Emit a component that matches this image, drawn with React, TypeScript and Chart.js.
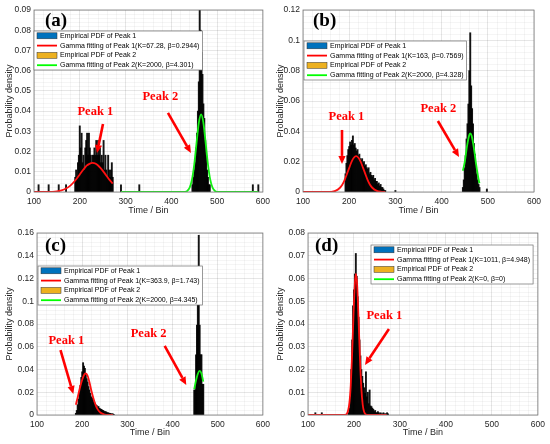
import { useEffect, useRef } from "react";
import { Chart, registerables } from "chart.js";

Chart.register(...registerables);

// ---- panel (a) ----
const binsA1 = [110, 132, 154, 170, 190, 192, 194, 196, 198, 200, 202, 204, 206, 208, 210, 212, 214, 216, 218, 220, 222, 224, 226, 228, 230, 232, 234, 236, 238, 240, 242, 244, 246, 248, 250, 252, 254, 256, 258, 260, 262, 264, 266, 268, 270, 272, 290, 330, 578, 590];
const pdfA1 = [0.0036, 0.0036, 0.0036, 0.0036, 0.0073, 0.0109, 0.0073, 0.0145, 0.0182, 0.0327, 0.0218, 0.0291, 0.0145, 0.0182, 0.0109, 0.0218, 0.0255, 0.0291, 0.0182, 0.0291, 0.0218, 0.0182, 0.0145, 0.0182, 0.0182, 0.0218, 0.0182, 0.0255, 0.0182, 0.0255, 0.0182, 0.0218, 0.0145, 0.0182, 0.0145, 0.0255, 0.0109, 0.0182, 0.0109, 0.0073, 0.0182, 0.0109, 0.0073, 0.0109, 0.0145, 0.0073, 0.0036, 0.0036, 0.0036, 0.0036];
const binsA2 = [446, 448, 450, 452, 454, 456, 458, 460, 462, 464, 466, 468, 470, 472, 474, 476, 478, 480, 482, 484];
const pdfA2 = [0.0036, 0.0073, 0.0109, 0.0145, 0.0218, 0.0291, 0.04, 0.0545, 0.1, 0.08, 0.0691, 0.0582, 0.0436, 0.0364, 0.0255, 0.0182, 0.0109, 0.0073, 0.0036, 0.0036];
const fitXA1 = [100, 110, 120, 130, 140, 150, 160, 170, 180, 190, 200, 205, 210, 215, 220, 228, 234, 240, 245, 250, 255, 260, 265, 272];
const fitYA1 = [0, 0, 0, 0.00003, 0.0001, 0.0003, 0.00075, 0.0017, 0.0033, 0.0057, 0.0087, 0.0103, 0.0117, 0.013, 0.0138, 0.0144, 0.0141, 0.0131, 0.0119, 0.0106, 0.0091, 0.0075, 0.006, 0.0042];
const fitXA2 = [290, 300, 350, 400, 420, 430, 435, 440, 445, 450, 455, 460, 465, 470, 475, 480, 485, 490, 495, 500, 510, 550, 590];
const fitYA2 = [0, 0, 0, 0, 0, 0.0001, 0.0006, 0.0022, 0.0061, 0.0136, 0.0242, 0.0342, 0.0384, 0.0342, 0.0242, 0.0136, 0.0061, 0.0022, 0.0006, 0.0001, 0, 0, 0];
const labelsA = ["Empirical PDF of Peak 1", "Gamma fitting of Peak 1(K=67.28, β=0.2944)", "Empirical PDF of Peak 2", "Gamma fitting of Peak 2(K=2000, β=4.301)"];

// ---- panel (b) ----
const binsB1 = [192, 194, 196, 198, 200, 202, 204, 206, 208, 210, 212, 214, 216, 218, 220, 222, 224, 226, 228, 230, 232, 234, 236, 238, 240, 242, 244, 246, 248, 250, 252, 254, 256, 258, 260, 262, 264, 266, 268, 270, 272, 274, 276, 278, 300];
const pdfB1 = [0.012, 0.019, 0.024, 0.028, 0.03, 0.033, 0.031, 0.034, 0.037, 0.031, 0.032, 0.029, 0.027, 0.028, 0.024, 0.025, 0.022, 0.021, 0.022, 0.019, 0.02, 0.017, 0.018, 0.016, 0.015, 0.016, 0.012, 0.013, 0.011, 0.01, 0.011, 0.008, 0.009, 0.007, 0.007, 0.005, 0.006, 0.004, 0.005, 0.003, 0.003, 0.002, 0.001, 0.001, 0.001];
const binsB2 = [446, 448, 450, 452, 454, 456, 458, 460, 462, 464, 466, 468, 470, 472, 474, 476, 478, 480, 482, 498];
const pdfB2 = [0.003, 0.008, 0.016, 0.024, 0.035, 0.045, 0.058, 0.08, 0.105, 0.07, 0.055, 0.045, 0.032, 0.025, 0.018, 0.012, 0.008, 0.005, 0.003, 0.002];
const fitXB1 = [100, 150, 160, 170, 180, 185, 190, 195, 200, 205, 210, 215, 220, 225, 230, 235, 240, 245, 250, 260, 270, 278];
const fitYB1 = [0, 0, 0.0001, 0.0007, 0.0028, 0.0048, 0.0079, 0.0118, 0.0159, 0.0199, 0.0226, 0.0236, 0.0226, 0.0199, 0.0159, 0.0118, 0.0079, 0.0048, 0.0028, 0.0007, 0.0001, 0];
const fitXB2 = [446, 450, 455, 460, 462, 465, 470, 475, 480, 482];
const fitYB2 = [0.014, 0.0196, 0.0302, 0.0378, 0.0386, 0.0371, 0.0288, 0.0177, 0.0084, 0.0058];
const labelsB = ["Empirical PDF of Peak 1", "Gamma fitting of Peak 1(K=163, β=0.7569)", "Empirical PDF of Peak 2", "Gamma fitting of Peak 2(K=2000, β=4.328)"];

// ---- panel (c) ----
const binsC1 = [186, 188, 190, 192, 194, 196, 198, 200, 202, 204, 206, 208, 210, 212, 214, 216, 218, 220, 222, 224, 226, 228, 230, 232, 234, 236, 238, 240, 242, 244, 246, 248, 250, 252, 254, 256, 258, 260, 262, 264, 266, 268, 270];
const pdfC1 = [0.0015, 0.004, 0.009, 0.014, 0.02, 0.026, 0.033, 0.038, 0.046, 0.043, 0.041, 0.036, 0.032, 0.029, 0.025, 0.022, 0.019, 0.016, 0.015, 0.013, 0.011, 0.0105, 0.009, 0.0085, 0.007, 0.0075, 0.006, 0.0055, 0.005, 0.0045, 0.004, 0.0035, 0.003, 0.003, 0.0025, 0.002, 0.002, 0.0015, 0.0015, 0.001, 0.001, 0.001, 0.0005];
const binsC2 = [448, 450, 452, 454, 456, 458, 460, 462, 464, 466, 468];
const pdfC2 = [0.022, 0.022, 0.053, 0.079, 0.104, 0.158, 0.079, 0.053, 0.053, 0.027, 0.027];
const fitXC1 = [186, 190, 195, 200, 205, 208, 212, 216, 220, 225, 230, 235, 240, 250, 260, 268];
const fitYC1 = [0.009, 0.0155, 0.024, 0.031, 0.0358, 0.0365, 0.0345, 0.029, 0.022, 0.0145, 0.0085, 0.0045, 0.0022, 0.0004, 0.0001, 0];
const fitXC2 = [448, 452, 456, 460, 464, 468];
const fitYC2 = [0.0227, 0.0305, 0.0363, 0.0388, 0.0365, 0.0293];
const labelsC = ["Empirical PDF of Peak 1", "Gamma fitting of Peak 1(K=363.9, β=1.743)", "Empirical PDF of Peak 2", "Gamma fitting of Peak 2(K=2000, β=4.345)"];

// ---- panel (d) ----
const binsD1 = [116, 130, 188, 190, 192, 194, 196, 198, 200, 202, 204, 206, 208, 210, 212, 214, 216, 218, 220, 222, 224, 226, 228, 230, 232, 234, 236, 238, 240, 242, 244, 246, 248, 250, 252, 254, 256, 258, 260, 262, 264, 266, 268, 270, 272, 274];
const pdfD1 = [0.001, 0.001, 0.001, 0.003, 0.008, 0.02, 0.033, 0.048, 0.055, 0.062, 0.071, 0.061, 0.052, 0.043, 0.033, 0.026, 0.02, 0.017, 0.014, 0.012, 0.0095, 0.019, 0.008, 0.01, 0.005, 0.011, 0.004, 0.0037, 0.003, 0.0025, 0.0015, 0.002, 0.001, 0.001, 0.0015, 0.001, 0.0005, 0.001, 0.0005, 0.0005, 0.001, 0.0005, 0.0005, 0.0005, 0.001, 0.0005];
const fitXD1 = [100, 150, 180, 185, 190, 193, 196, 199, 202, 204, 207, 210, 213, 216, 219, 222, 226, 230, 250, 271];
const fitYD1 = [0, 0, 0, 0.0007, 0.0053, 0.0132, 0.027, 0.0443, 0.0581, 0.062, 0.0568, 0.0418, 0.0248, 0.0118, 0.0045, 0.0014, 0.0002, 0, 0, 0];
const labelsD = ["Empirical PDF of Peak 1", "Gamma fitting of Peak 1(K=1011, β=4.948)", "Empirical PDF of Peak 2", "Gamma fitting of Peak 2(K=0, β=0)"];

const xTicks = [100, 200, 300, 400, 500, 600];

const swatches = ["#0072BD", "#FF0000", "#EDB120", "#00FF00"];
const SANS = "'Liberation Sans', Arial, sans-serif";
const SERIF = "'Liberation Serif', 'Times New Roman', serif";

const pts = (xs: number[], ys: number[]) => xs.map((x, i) => ({ x, y: ys[i] }));

interface Peak {
  label: string;
  lx: number;
  ly: number;
  ax: [number, number, number, number];
}

interface PanelProps {
  left: number;
  top: number;
  area: [number, number, number, number];
  yMax: number;
  yMajor: number;
  letter: string;
  letterAt: [number, number];
  legendAt: [number, number];
  yTitlePad: number;
  labels: string[];
  bars1: { x: number; y: number }[];
  bars2: { x: number; y: number }[];
  fit1: { x: number; y: number }[];
  fit2: { x: number; y: number }[];
  peaks: Peak[];
}

const W = 275;
const H = 222;

function drawArrow(ctx: CanvasRenderingContext2D, x0: number, y0: number, x1: number, y1: number) {
  const ang = Math.atan2(y1 - y0, x1 - x0);
  const head = 8;
  const hw = 3.6;
  const bx = x1 - head * Math.cos(ang);
  const by = y1 - head * Math.sin(ang);
  ctx.lineWidth = 2.6;
  ctx.beginPath();
  ctx.moveTo(x0, y0);
  ctx.lineTo(bx, by);
  ctx.stroke();
  ctx.beginPath();
  ctx.moveTo(x1, y1);
  ctx.lineTo(bx + hw * Math.sin(ang), by - hw * Math.cos(ang));
  ctx.lineTo(bx - hw * Math.sin(ang), by + hw * Math.cos(ang));
  ctx.closePath();
  ctx.fill();
}

const Panel = (p: PanelProps) => {
  const chartRef = useRef<HTMLCanvasElement>(null);

  useEffect(() => {
    if (!chartRef.current) return;
    const minor = p.yMajor / 5;
    const isMajorY = (v: number) => Math.abs(v / p.yMajor - Math.round(v / p.yMajor)) < 1e-6;
    const isMajorX = (v: number) => xTicks.includes(Math.round(v)) && Math.abs(v - Math.round(v)) < 1e-6;

    const decor = {
      id: "decor",
      afterDraw(chart: any) {
        const { ctx, chartArea: a, scales } = chart;
        const sx = scales.x;
        const sy = scales.y;
        ctx.save();
        ctx.strokeStyle = "#7a7a7a";
        ctx.lineWidth = 0.8;
        ctx.strokeRect(a.left, a.top, a.right - a.left, a.bottom - a.top);

        // legend
        ctx.font = `7px ${SANS}`;
        const texts: string[] = chart.data.datasets.map((d: any) => d.label);
        const tw = Math.max(...texts.map((t) => ctx.measureText(t).width));
        const lx = a.left + p.legendAt[0];
        const ly = a.top + p.legendAt[1];
        const bw = 26 + tw + 3;
        const bh = 39;
        ctx.fillStyle = "#fff";
        ctx.fillRect(lx, ly, bw, bh);
        ctx.strokeStyle = "#6e6e6e";
        ctx.lineWidth = 0.7;
        ctx.strokeRect(lx, ly, bw, bh);
        texts.forEach((t, i) => {
          const cy = ly + 4.8 + i * 9.8;
          if (i % 2 === 0) {
            ctx.fillStyle = swatches[i];
            ctx.fillRect(lx + 3, cy - 3, 20, 6);
            ctx.strokeStyle = "#333";
            ctx.lineWidth = 0.5;
            ctx.strokeRect(lx + 3, cy - 3, 20, 6);
          } else {
            ctx.strokeStyle = swatches[i];
            ctx.lineWidth = 1.8;
            ctx.beginPath();
            ctx.moveTo(lx + 3, cy);
            ctx.lineTo(lx + 23, cy);
            ctx.stroke();
          }
          ctx.fillStyle = "#000";
          ctx.textAlign = "left";
          ctx.textBaseline = "middle";
          ctx.fillText(t, lx + 26, cy);
        });

        // peak labels and arrows
        ctx.fillStyle = "#ff0000";
        ctx.strokeStyle = "#ff0000";
        ctx.font = `bold 12.5px ${SERIF}`;
        ctx.textAlign = "center";
        ctx.textBaseline = "middle";
        for (const pk of p.peaks) {
          ctx.fillText(pk.label, sx.getPixelForValue(pk.lx), sy.getPixelForValue(pk.ly));
          drawArrow(
            ctx,
            sx.getPixelForValue(pk.ax[0]),
            sy.getPixelForValue(pk.ax[1]),
            sx.getPixelForValue(pk.ax[2]),
            sy.getPixelForValue(pk.ax[3])
          );
        }

        // panel letter
        ctx.fillStyle = "#000";
        ctx.font = `bold 19px ${SERIF}`;
        ctx.textAlign = "left";
        ctx.fillText(p.letter, a.left + p.letterAt[0], a.top + p.letterAt[1]);
        ctx.restore();
      },
    };

    const barStyle = {
      type: "bar",
      backgroundColor: "rgba(0,0,0,0.92)",
      borderWidth: 0,
      barThickness: 1.25,
      grouped: false,
      order: 2,
    };
    const lineStyle = {
      type: "line",
      pointRadius: 0,
      borderWidth: 1.8,
      fill: false,
      cubicInterpolationMode: "monotone",
      order: 1,
    };

    const chartInstance = new Chart(chartRef.current, {
      type: "bar",
      data: {
        datasets: [
          { ...barStyle, label: p.labels[0], data: p.bars1 },
          { ...lineStyle, label: p.labels[1], data: p.fit1, borderColor: "#ff1010" },
          { ...barStyle, label: p.labels[2], data: p.bars2 },
          { ...lineStyle, label: p.labels[3], data: p.fit2, borderColor: "#14f014" },
        ] as any,
      },
      options: {
        animation: false,
        responsive: true,
        maintainAspectRatio: false,
        events: [],
        layout: {
          padding: { left: 0, top: p.area[1], right: W - p.area[2], bottom: 0 },
        },
        plugins: { legend: { display: false }, tooltip: { enabled: false } },
        scales: {
          x: {
            type: "linear",
            min: 100,
            max: 600,
            offset: false,
            afterFit: (s: any) => {
              s.height = H - p.area[3];
            },
            grid: {
              offset: false,
              drawTicks: false,
              color: (c: any) => (c.tick && isMajorX(c.tick.value) ? "rgba(0,0,0,0.14)" : "rgba(0,0,0,0.06)"),
              lineWidth: 0.7,
            },
            border: { display: false },
            ticks: {
              stepSize: 20,
              autoSkip: false,
              maxRotation: 0,
              padding: 5,
              color: "#262626",
              font: { family: SANS, size: 8.5 },
              callback: (v: any) => (isMajorX(Number(v)) ? String(Math.round(Number(v))) : ""),
            },
            title: {
              display: true,
              text: "Time / Bin",
              color: "#262626",
              font: { family: SANS, size: 9 },
              padding: { top: 0, bottom: 5.6 },
            },
          },
          y: {
            type: "linear",
            min: 0,
            max: p.yMax,
            afterFit: (s: any) => {
              s.width = p.area[0];
            },
            grid: {
              drawTicks: false,
              color: (c: any) => (c.tick && isMajorY(c.tick.value) ? "rgba(0,0,0,0.14)" : "rgba(0,0,0,0.06)"),
              lineWidth: 0.7,
            },
            border: { display: false },
            ticks: {
              stepSize: minor,
              autoSkip: false,
              padding: 3,
              color: "#262626",
              font: { family: SANS, size: 8.5 },
              callback: (v: any) => (isMajorY(Number(v)) ? String(parseFloat(Number(v).toFixed(4))) : ""),
            },
            title: {
              display: true,
              text: "Probability density",
              color: "#262626",
              font: { family: SANS, size: 9 },
              padding: { top: p.yTitlePad, bottom: 0 },
            },
          },
        },
      } as any,
      plugins: [decor as any],
    });

    return () => {
      chartInstance.destroy();
    };
  }, []);

  return (
    <div style={{ position: "absolute", left: p.left, top: p.top, width: W, height: H }}>
      <canvas ref={chartRef} />
    </div>
  );
};

export default function App() {
  return (
    <div style={{ position: "fixed", left: 0, top: 0, width: 550, height: 444, background: "#fff" }}>
      <Panel
        left={0}
        top={0}
        area={[34, 10, 263, 192]}
        yMax={0.09}
        yMajor={0.01}
        letter="(a)"
        letterAt={[11, 11]}
        legendAt={[0, 21]}
        yTitlePad={4.6}
        labels={labelsA}
        bars1={pts(binsA1, pdfA1)}
        bars2={pts(binsA2, pdfA2)}
        fit1={pts(fitXA1, fitYA1)}
        fit2={pts(fitXA2, fitYA2)}
        peaks={[
          { label: "Peak 1", lx: 234, ly: 0.0396, ax: [250.7, 0.0336, 237.6, 0.0193] },
          { label: "Peak 2", lx: 376, ly: 0.047, ax: [392.6, 0.0391, 442.8, 0.0193] },
        ]}
      />
      <Panel
        left={275}
        top={0}
        area={[28, 10, 259, 192]}
        yMax={0.12}
        yMajor={0.02}
        letter="(b)"
        letterAt={[10, 11.5]}
        legendAt={[1, 31]}
        yTitlePad={0}
        labels={labelsB}
        bars1={pts(binsB1, pdfB1)}
        bars2={pts(binsB2, pdfB2)}
        fit1={pts(fitXB1, fitYB1)}
        fit2={pts(fitXB2, fitYB2)}
        peaks={[
          { label: "Peak 1", lx: 194, ly: 0.0495, ax: [184.4, 0.0409, 184.4, 0.0185] },
          { label: "Peak 2", lx: 393, ly: 0.0547, ax: [392, 0.0468, 437.7, 0.0231] },
        ]}
      />
      <Panel
        left={0}
        top={222}
        area={[37, 11, 267, 193]}
        yMax={0.16}
        yMajor={0.02}
        letter="(c)"
        letterAt={[8, 13.5]}
        legendAt={[1, 33]}
        yTitlePad={4.6}
        labels={labelsC}
        bars1={pts(binsC1, pdfC1)}
        bars2={pts(binsC2, pdfC2)}
        fit1={pts(fitXC1, fitYC1)}
        fit2={pts(fitXC2, fitYC2)}
        peaks={[
          { label: "Peak 1", lx: 165, ly: 0.065, ax: [152, 0.0571, 180.4, 0.0185] },
          { label: "Peak 2", lx: 347, ly: 0.0712, ax: [382.6, 0.0607, 430.4, 0.0264] },
        ]}
      />
      <Panel
        left={275}
        top={222}
        area={[33, 11, 263, 193]}
        yMax={0.08}
        yMajor={0.01}
        letter="(d)"
        letterAt={[7, 13.5]}
        legendAt={[63, 12]}
        yTitlePad={0.3}
        labels={labelsD}
        bars1={pts(binsD1, pdfD1)}
        bars2={[]}
        fit1={pts(fitXD1, fitYD1)}
        fit2={[]}
        peaks={[{ label: "Peak 1", lx: 266, ly: 0.0435, ax: [276, 0.0378, 224, 0.022] }]}
      />
    </div>
  );
}
